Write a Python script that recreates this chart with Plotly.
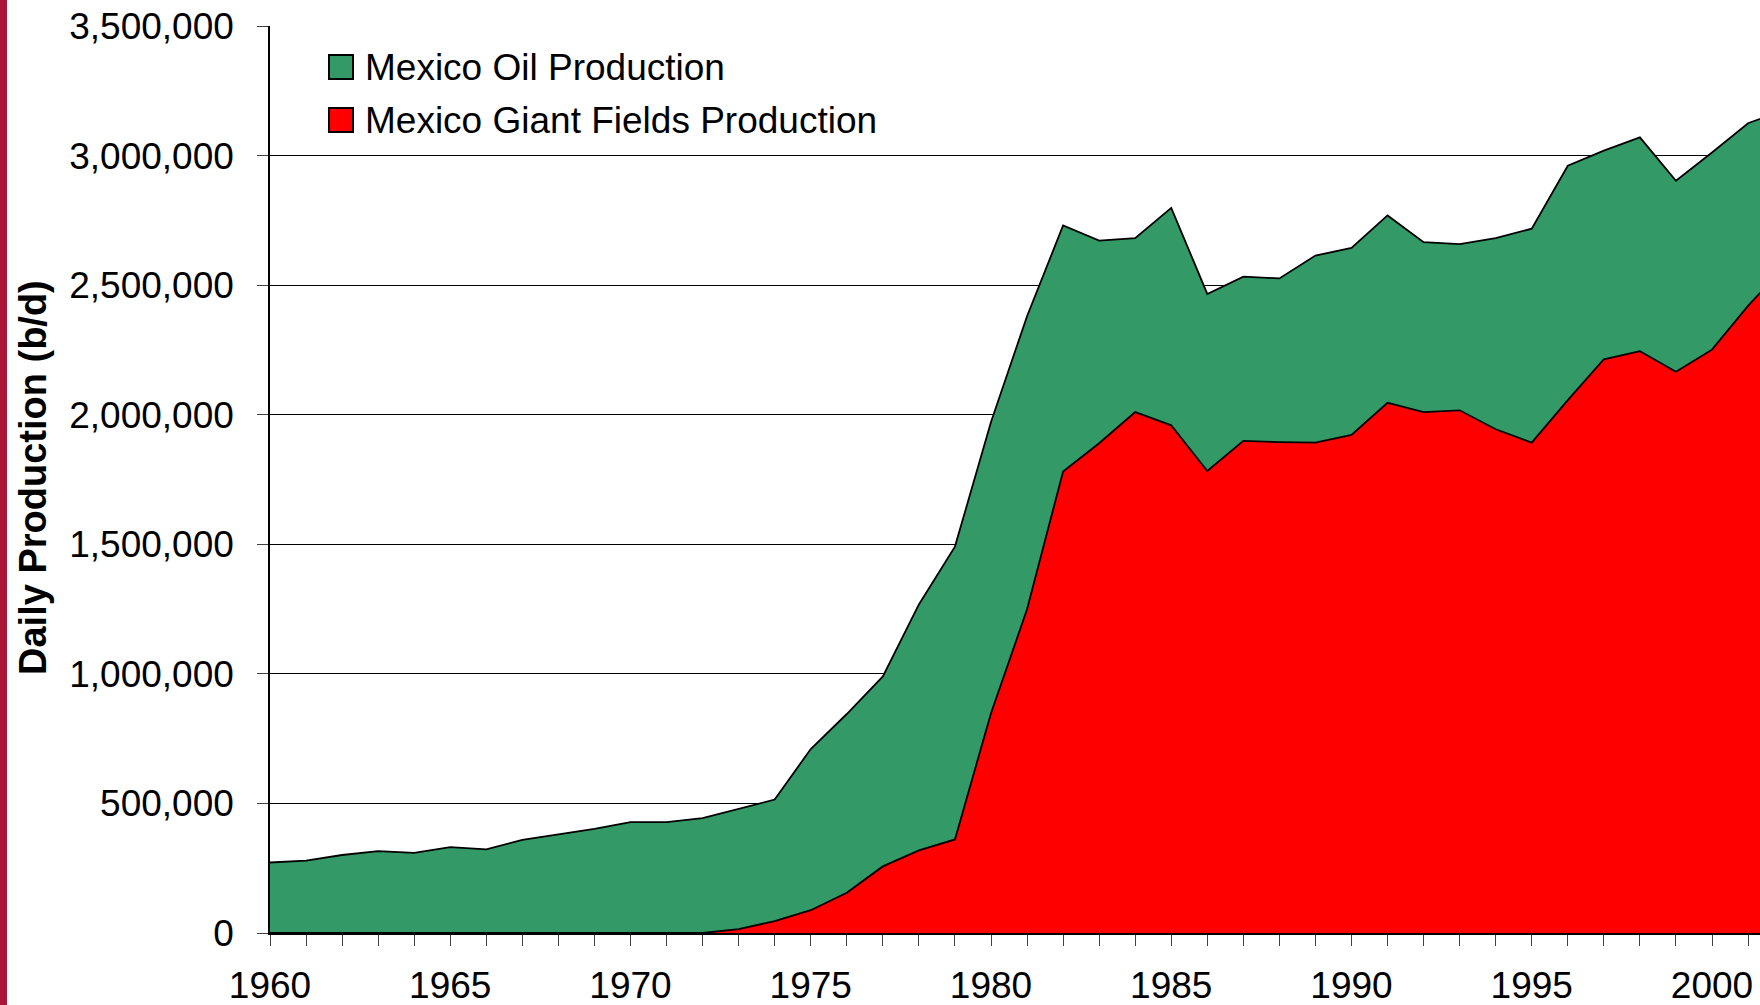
import plotly.graph_objects as go

# Años y producción (barriles por día)
years = list(range(1960, 2003))

total_production = [
    272000, 279000, 301000, 316000, 309000, 331000, 323000, 359000, 381000, 402000,
    428000, 428000, 443000, 480000, 515000, 710000, 845000, 990000, 1268000, 1491000,
    1972000, 2380000, 2730000, 2672000, 2681000, 2798000, 2466000, 2533000, 2526000, 2614000,
    2644000, 2769000, 2666000, 2658000, 2681000, 2718000, 2961000, 3019000, 3070000, 2903000,
    3012000, 3125000, 3175000,
]

giant_fields = [
    0, 0, 0, 0, 0, 0, 0, 0, 0, 0,
    0, 0, 0, 15000, 46000, 88000, 155000, 257000, 319000, 361000,
    848000, 1249000, 1781000, 1890000, 2010000, 1959000, 1783000, 1899000, 1894000, 1892000,
    1922000, 2046000, 2010000, 2017000, 1944000, 1892000, 2056000, 2214000, 2245000, 2166000,
    2251000, 2420000, 2570000,
]

series_names = ["Mexico Oil Production", "Mexico Giant Fields Production"]
series_colors = ["#339966", "#FF0000"]

W, H = 1760, 1005
ML, MR, MT, MB = 270, 0, 26, 72
PW, PH = W - ML - MR, H - MT - MB
FONT = "Liberation Sans, Arial, sans-serif"


def px_x(px):
    return (px - ML) / PW


def px_y(py):
    return (H - MB - py) / PH


fig = go.Figure()

# Área verde (producción total) y área roja (campos gigantes)
for vals, name, color in zip([total_production, giant_fields], series_names, series_colors):
    fig.add_trace(go.Scatter(
        x=years, y=vals, name=name, mode="lines", fill="tozeroy",
        fillcolor=color, line=dict(color="black", width=1.8),
        showlegend=False,
    ))

# Leyenda dibujada a mano (cuadros grandes como en el original)
shapes = []
annotations = []
legend_rows = [(55, 79, 67), (108, 132, 120)]
for (top, bottom, mid), name, color in zip(legend_rows, series_names, series_colors):
    shapes.append(dict(
        type="rect", xref="paper", yref="paper",
        x0=px_x(329), x1=px_x(353), y0=px_y(bottom), y1=px_y(top),
        fillcolor=color, line=dict(color="black", width=2), layer="above",
    ))
    annotations.append(dict(
        text=name, xref="paper", yref="paper", x=px_x(363), y=px_y(mid),
        xanchor="left", yanchor="middle", showarrow=False,
        font=dict(family=FONT, size=37, color="black"),
    ))

# Barra lateral granate
shapes.append(dict(
    type="rect", xref="paper", yref="paper",
    x0=px_x(0), x1=px_x(7), y0=px_y(H), y1=px_y(0),
    fillcolor="#A8173A", line=dict(width=0), layer="above",
))

# Título del eje y
annotations.append(dict(
    text="<b>Daily Production (b/d)</b>", xref="paper", yref="paper",
    x=px_x(33), y=px_y(478), xanchor="center", yanchor="middle",
    textangle=-90, showarrow=False,
    font=dict(family=FONT, size=38, color="black"),
))

fig.update_layout(
    width=W, height=H,
    margin=dict(l=ML, r=MR, t=MT, b=MB),
    paper_bgcolor="white", plot_bgcolor="white",
    font=dict(family=FONT, color="black"),
    shapes=shapes, annotations=annotations,
    showlegend=False,
)

fig.update_xaxes(
    range=[1960, 1960 + PW / 36.05], tick0=1960, dtick=5,
    ticks="outside", ticklen=11, tickcolor="#404040", tickwidth=1,
    tickfont=dict(family=FONT, size=37, color="black"),
    ticklabelstandoff=8, automargin=False,
    minor=dict(dtick=1, ticks="outside", ticklen=11, tickcolor="#404040", showgrid=False),
    showline=True, linecolor="black", linewidth=1.5,
    showgrid=False, zeroline=False,
)

fig.update_yaxes(
    range=[0, 3500000], dtick=500000, tickformat=",d",
    ticks="outside", ticklen=11, tickcolor="#404040", tickwidth=1,
    tickfont=dict(family=FONT, size=37, color="black"),
    ticklabelstandoff=16, automargin=False,
    showline=True, linecolor="black", linewidth=1.5,
    showgrid=True, gridcolor="black", gridwidth=1, zeroline=False,
)

# Sin margen en el body para que la figura empiece en (0, 0)
fig.write_html(
    "out.html",
    config={"displayModeBar": False},
    post_script="document.body.style.margin='0';",
)
